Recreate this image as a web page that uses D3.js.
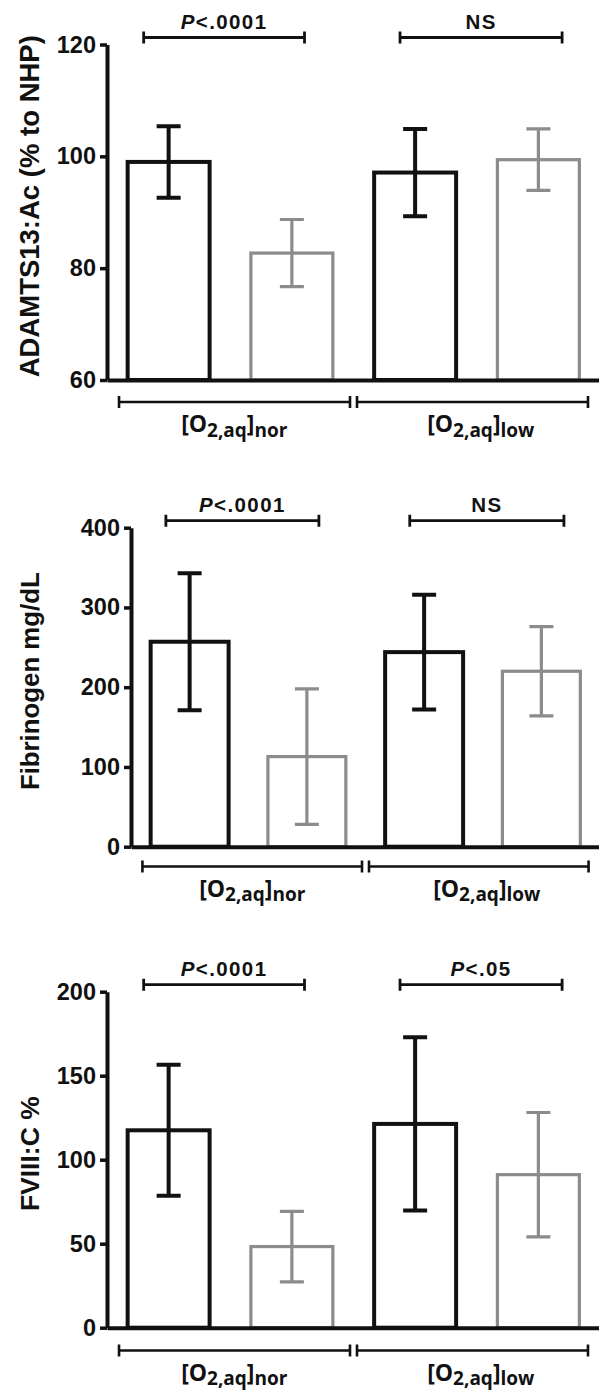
<!DOCTYPE html>
<html>
<head>
<meta charset="utf-8">
<script src="https://cdn.jsdelivr.net/npm/d3@7"></script>
<style>
  html, body { margin: 0; padding: 0; background: #fff; }
  svg { display: block; }
</style>
</head>
<body>
<svg id="fig" width="599" height="1390"></svg>
<script>
// Bars in each panel: two oxygen conditions, each with a control (black) and a treated (grey) bar
const barKeys = ["nor-ctrl", "nor-trt", "low-ctrl", "low-trt"];
const barSeries = [0, 1, 0, 1];
const seriesColors = ["#111111", "#8c8c8c"];
const seriesWidths = [4, 3.2];

const groupNames = ["nor", "low"];

// ADAMTS13 activity (% of normal human plasma), mean and SD
const adamtsMean = [99.0, 82.7, 97.1, 99.4];
const adamtsSD = [6.4, 6.0, 7.8, 5.5];
const adamtsTicks = [60, 80, 100, 120];

// Fibrinogen (mg/dL)
const fibMean = [257, 113, 244, 220];
const fibSD = [86, 85, 72, 56];
const fibTicks = [0, 100, 200, 300, 400];

// FVIII:C (%)
const fviiiMean = [117.5, 48.3, 121.3, 91.1];
const fviiiSD = [39, 21, 51.6, 37];
const fviiiTicks = [0, 50, 100, 150, 200];

// Significance labels (per oxygen condition)
const adamtsSig = ["P<.0001", "NS"];
const fibSig = ["P<.0001", "NS"];
const fviiiSig = ["P<.0001", "P<.05"];

const panels = [
  { title: "ADAMTS13:Ac (% to NHP)", titleSize: 27.5, mean: adamtsMean, sd: adamtsSD, ticks: adamtsTicks,
    domain: [60, 120], sig: adamtsSig, left: 107, top: 44.5, bottom: 380, groupY: 402 },
  { title: "Fibrinogen mg/dL", titleSize: 25.8, mean: fibMean, sd: fibSD, ticks: fibTicks,
    domain: [0, 400], sig: fibSig, left: 131, top: 527.7, bottom: 846.7, groupY: 866.5 },
  { title: "FVIII:C %", titleSize: 26.5, mean: fviiiMean, sd: fviiiSD, ticks: fviiiTicks,
    domain: [0, 200], sig: fviiiSig, left: 107, top: 991.7, bottom: 1327.7, groupY: 1350.5 }
];

const svg = d3.select("#fig");
const RIGHT = 600;
const FONT = "'Liberation Sans', Arial, sans-serif";
const LABEL_FONT = "'Open Sans', 'Liberation Sans', sans-serif";

function bracket(g, x0, x1, y, sw) {
  const p = d3.path();
  p.moveTo(x0, y); p.lineTo(x1, y);
  p.moveTo(x0, y - 6); p.lineTo(x0, y + 6);
  p.moveTo(x1, y - 6); p.lineTo(x1, y + 6);
  g.append("path").attr("d", p.toString())
    .attr("fill", "none").attr("stroke", "#111").attr("stroke-width", sw);
}

panels.forEach(pn => {
  const g = svg.append("g");

  const x = d3.scaleBand().domain(barKeys)
    .range([pn.left, RIGHT]).paddingInner(0.335).paddingOuter(0.1675);
  const y = d3.scaleLinear().domain(pn.domain).range([pn.bottom, pn.top]);
  const bw = x.bandwidth();
  const step = x.step();

  const rows = barKeys.map((k, i) => ({ key: k, mean: pn.mean[i], sd: pn.sd[i], s: barSeries[i] }));

  // bars (outlined)
  g.selectAll("rect.bar").data(rows).join("rect")
    .attr("class", "bar")
    .attr("x", d => x(d.key))
    .attr("y", d => y(d.mean))
    .attr("width", bw)
    .attr("height", d => y(pn.domain[0]) - y(d.mean))
    .attr("fill", "#fff")
    .attr("stroke", d => seriesColors[d.s])
    .attr("stroke-width", d => seriesWidths[d.s]);

  // error bars
  const capHalf = 12;
  g.selectAll("path.err").data(rows).join("path")
    .attr("class", "err")
    .attr("d", d => {
      const cx = x(d.key) + bw / 2;
      const yt = y(d.mean + d.sd), yb = y(d.mean - d.sd);
      const p = d3.path();
      p.moveTo(cx, yt); p.lineTo(cx, yb);
      p.moveTo(cx - capHalf, yt); p.lineTo(cx + capHalf, yt);
      p.moveTo(cx - capHalf, yb); p.lineTo(cx + capHalf, yb);
      return p.toString();
    })
    .attr("fill", "none")
    .attr("stroke", d => seriesColors[d.s])
    .attr("stroke-width", d => seriesWidths[d.s]);

  // x baseline
  const xAxis = g.append("g").attr("transform", `translate(0,${pn.bottom})`)
    .call(d3.axisBottom(x).tickSize(0).tickSizeOuter(0).tickFormat(""));
  xAxis.select(".domain").attr("stroke", "#111").attr("stroke-width", 4);

  // y axis
  const yAxis = g.append("g").attr("transform", `translate(${pn.left},0)`)
    .call(d3.axisLeft(y).tickValues(pn.ticks).tickSize(7).tickSizeOuter(0).tickPadding(4));
  yAxis.select(".domain").attr("stroke", "#111").attr("stroke-width", 4);
  yAxis.selectAll(".tick line").attr("stroke", "#111").attr("stroke-width", 3.5);
  yAxis.selectAll(".tick text")
    .attr("fill", "#111")
    .style("font-family", FONT).style("font-weight", "bold").style("font-size", "23.5px");

  // y title
  g.append("text")
    .attr("transform", `translate(38.5,${(pn.top + pn.bottom) / 2 - 6}) rotate(-90)`)
    .attr("text-anchor", "middle")
    .style("font-family", FONT).style("font-weight", "bold").style("font-size", pn.titleSize + "px")
    .attr("fill", "#111")
    .text(pn.title);

  // significance brackets
  const sigY = pn.top - 7;
  const sigSpans = [
    [x(barKeys[0]) + 0.13 * step, x(barKeys[1]) + bw - 0.23 * step],
    [x(barKeys[2]) + 0.21 * step, x(barKeys[3]) + bw - 0.14 * step]
  ];
  sigSpans.forEach((sp, i) => {
    bracket(g, sp[0], sp[1], sigY, 2.8);
    const t = g.append("text")
      .attr("x", (sp[0] + sp[1]) / 2)
      .attr("y", sigY - 9)
      .attr("text-anchor", "middle")
      .style("font-family", FONT).style("font-weight", "bold").style("font-size", "20.5px")
      .style("letter-spacing", "1.4px")
      .attr("fill", "#111");
    const label = pn.sig[i];
    if (label.startsWith("P")) {
      t.append("tspan").style("font-style", "italic").text("P");
      t.append("tspan").text(label.slice(1));
    } else {
      t.text(label);
    }
  });

  // oxygen-condition group brackets and labels
  const mid = (x(barKeys[1]) + bw + x(barKeys[2])) / 2;
  const gy = pn.groupY;
  const groupSpans = [
    [x(barKeys[0]) - 0.07 * step, mid - 3.5],
    [mid + 3.5, x(barKeys[3]) + bw + 0.07 * step]
  ];
  groupSpans.forEach((sp, i) => {
    bracket(g, sp[0], sp[1], gy, 2.6);
    const cx = (x(barKeys[2 * i]) + x(barKeys[2 * i + 1]) + bw) / 2 + 4;
    const t = g.append("text")
      .attr("x", cx).attr("y", gy + 30)
      .attr("text-anchor", "middle")
      .style("font-family", LABEL_FONT).style("font-weight", "bold")
      .attr("fill", "#111");
    t.append("tspan").style("font-size", "23px").text("[O");
    t.append("tspan").style("font-size", "19px").attr("dy", 4.5).text("2,aq");
    t.append("tspan").style("font-size", "23px").attr("dy", -4.5).text("]");
    t.append("tspan").style("font-size", "19px").attr("dy", 4.5).text(groupNames[i]);
  });
});
</script>
</body>
</html>
